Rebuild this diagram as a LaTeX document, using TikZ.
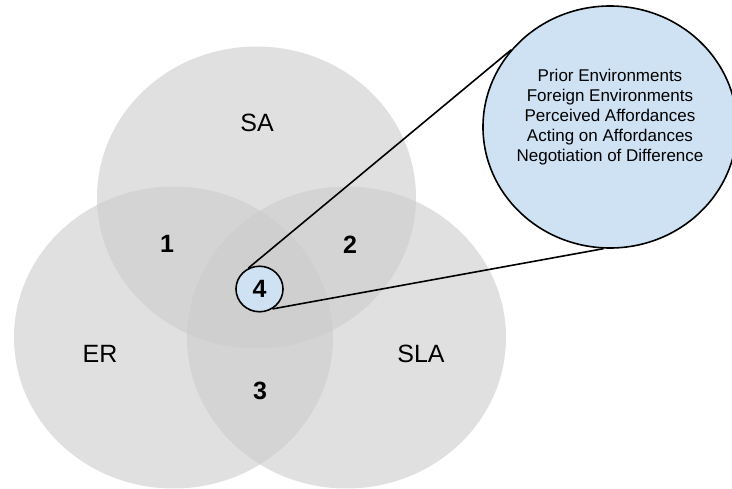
\documentclass[tikz,border=0pt]{standalone}
\usepackage{fontspec}
\setmainfont{Liberation Sans}
\usetikzlibrary{shapes.geometric}
\definecolor{zoomblue}{HTML}{CFE2F3}
\definecolor{venngray}{HTML}{CCCCCC}

\begin{document}
\begin{tikzpicture}[x=1pt,y=-1pt,
  venn/.style={ellipse,fill=venngray,fill opacity=0.6,minimum width=319pt,minimum height=302pt,inner sep=0pt},
  setname/.style={font=\fontsize{25}{30}\selectfont},
  region/.style={font=\fontsize{25}{30}\selectfont\bfseries},
  bubble/.style={ellipse,draw=black,line width=1.6pt,fill=zoomblue,inner sep=0pt},
  callout/.style={line width=1.6pt}]
\useasboundingbox (0,0) rectangle (732,489);
\node[venn] (sa) at (256.5,197.5) {};
\node[venn] (er) at (173.5,337.5) {};
\node[venn] (sla) at (346.5,337.5) {};
\node[setname] (saname) at (257,123) {SA};
\node[setname] (ername) at (100,354) {ER};
\node[setname] (slaname) at (421,354) {SLA};
\node[region] (one) at (167,244) {1};
\node[region] (two) at (350,245) {2};
\node[region] (three) at (260,391) {3};
\node[bubble,region,minimum width=47pt,minimum height=45.5pt] (four) at (259.5,289) {4};
\node[bubble,minimum width=254pt,minimum height=242pt] (zoom) at (610,127) {};
\node[align=center,font=\fontsize{17}{20}\selectfont] (factors) at (610,117) {Prior Environments\\Foreign Environments\\Perceived Affordances\\Acting on Affordances\\Negotiation of Difference};
\draw[callout] (four.118) -- (zoom.142);
\draw[callout] (four.303) -- (zoom.267);
\end{tikzpicture}
\end{document}
